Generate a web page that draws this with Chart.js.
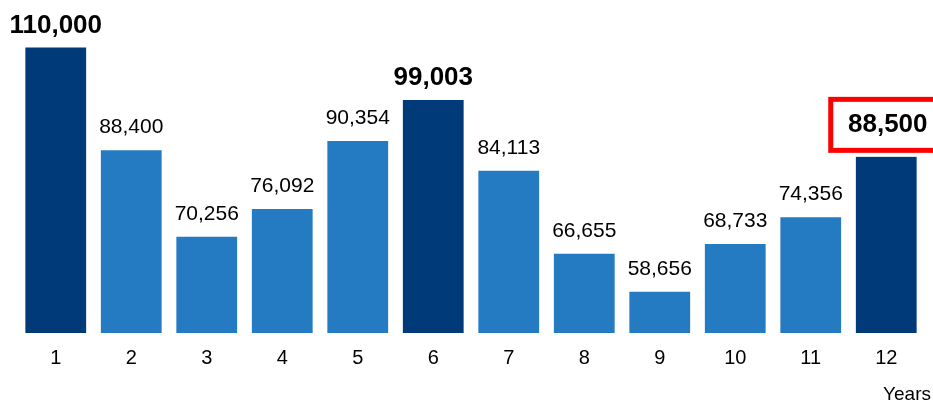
<!DOCTYPE html>
<html>
<head>
<meta charset="utf-8">
<script src="https://cdn.jsdelivr.net/npm/chart.js@4.4.0/dist/chart.umd.min.js"></script>
<style>
  html, body { margin: 0; padding: 0; background: #fff; }
  #wrap { width: 933px; height: 406px; }
</style>
</head>
<body>
<div id="wrap"><canvas id="years__Chart" width="933" height="406"></canvas></div>
<script>
// Values per year
const years = ['1', '2', '3', '4', '5', '6', '7', '8', '9', '10', '11', '12'];
const values = [110000, 88400, 70256, 76092, 90354, 99003, 84113, 66655, 58656, 68733, 74356, 88500];
// which bars are drawn dark (and labelled in bold)
const highlighted = [true, false, false, false, false, true, false, false, false, false, false, true];
// the last bar gets a red framed label
const boxedIndex = 11;
const axisTitle = 'Years';

const darkBlue = '#003A78';
const lightBlue = '#247BC2';
const fontFamily = '"Liberation Sans", Arial, sans-serif';

const fmt = v => v.toLocaleString('en-US');

// draw the value labels above the bars, plus the axis title at the far right
const valueLabels = {
  id: 'valueLabels',
  afterDatasetsDraw(chart) {
    const ctx = chart.ctx;
    const meta = chart.getDatasetMeta(0);
    ctx.save();
    ctx.textAlign = 'center';
    ctx.fillStyle = '#000';
    meta.data.forEach((bar, i) => {
      if (i === boxedIndex) {
        // white box over the bar top, red frame, bold label
        const left = bar.x - 58;
        const top = bar.y - 53;
        ctx.fillStyle = '#fff';
        ctx.fillRect(left, top, 140, 60);
        ctx.strokeStyle = '#FF0000';
        ctx.lineWidth = 5;
        ctx.strokeRect(left + 2.5, top + 2.5, 140, 51);
        ctx.fillStyle = '#000';
        ctx.font = 'bold 26px ' + fontFamily;
        ctx.textBaseline = 'middle';
        ctx.fillText(fmt(values[i]), bar.x + 1.5, top + 28);
        return;
      }
      ctx.textBaseline = 'alphabetic';
      if (highlighted[i]) {
        ctx.font = 'bold 26px ' + fontFamily;
        ctx.fillText(fmt(values[i]), bar.x, bar.y - 15);
      } else {
        ctx.font = '21px ' + fontFamily;
        ctx.fillText(fmt(values[i]), bar.x, bar.y - 17);
      }
    });
    ctx.textAlign = 'right';
    ctx.textBaseline = 'middle';
    ctx.font = '19px ' + fontFamily;
    ctx.fillText(axisTitle, chart.width - 2, 395);
    ctx.restore();
  }
};

const ctx = document.getElementById('years__Chart').getContext('2d');
const yearsChart = new Chart(ctx, {
  type: 'bar',
  data: {
    labels: years,
    datasets: [{
      data: values,
      backgroundColor: highlighted.map(h => h ? darkBlue : lightBlue),
      borderWidth: 0,
      barPercentage: 0.805,
      categoryPercentage: 1.0,
    }],
  },
  options: {
    responsive: false,
    animation: false,
    layout: { padding: { left: 18, right: 9, top: 0, bottom: 0 } },
    plugins: {
      legend: { display: false },
      tooltip: { enabled: false },
    },
    scales: {
      x: {
        grid: { display: false, drawTicks: false },
        border: { display: false },
        ticks: {
          color: '#000',
          padding: 13,
          font: { family: fontFamily, size: 20 },
        },
        afterFit: scale => { scale.height = 73; },
      },
      y: {
        display: false,
        min: 50000,
        max: 120000,
      },
    },
  },
  plugins: [valueLabels],
});
</script>
</body>
</html>
